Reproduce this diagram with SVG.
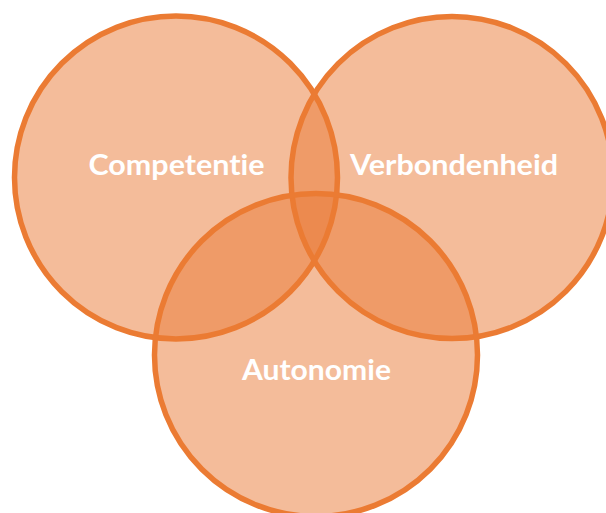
<svg xmlns="http://www.w3.org/2000/svg" width="606" height="513" viewBox="0 0 606 513">
<style>
.fill{fill:#E97A35;fill-opacity:0.5;stroke:none}
.ring{fill:none;stroke:#EB7B33;stroke-width:5.5}
.lbl{font-family:Lato,"Open Sans","Liberation Sans",sans-serif;font-weight:700;font-size:28px;fill:#FFFFFF;text-anchor:middle;font-variant-ligatures:none;font-feature-settings:"liga" 0}
</style>
<rect width="606" height="513" fill="#FFFFFF"/>
<g id="fills">
<circle class="fill" cx="176" cy="177.5" r="161.5"/>
<circle class="fill" cx="452" cy="177.5" r="161"/>
<circle class="fill" cx="316" cy="355" r="161.5"/>
</g>
<g id="competentie">
<circle class="ring" cx="176" cy="177.5" r="161.5"/>
</g>
<g id="verbondenheid">
<circle class="ring" cx="452" cy="177.5" r="161"/>
</g>
<g id="autonomie">
<circle class="ring" cx="316" cy="355" r="161.5"/>
</g>
<g id="labels">
<text class="lbl" x="176.5" y="175" textLength="176" lengthAdjust="spacingAndGlyphs">Competentie</text>
<text class="lbl" x="454" y="175" textLength="208" lengthAdjust="spacingAndGlyphs">Verbondenheid</text>
<text class="lbl" x="316.5" y="380" textLength="149" lengthAdjust="spacingAndGlyphs">Autonomie</text>
</g>
</svg>
